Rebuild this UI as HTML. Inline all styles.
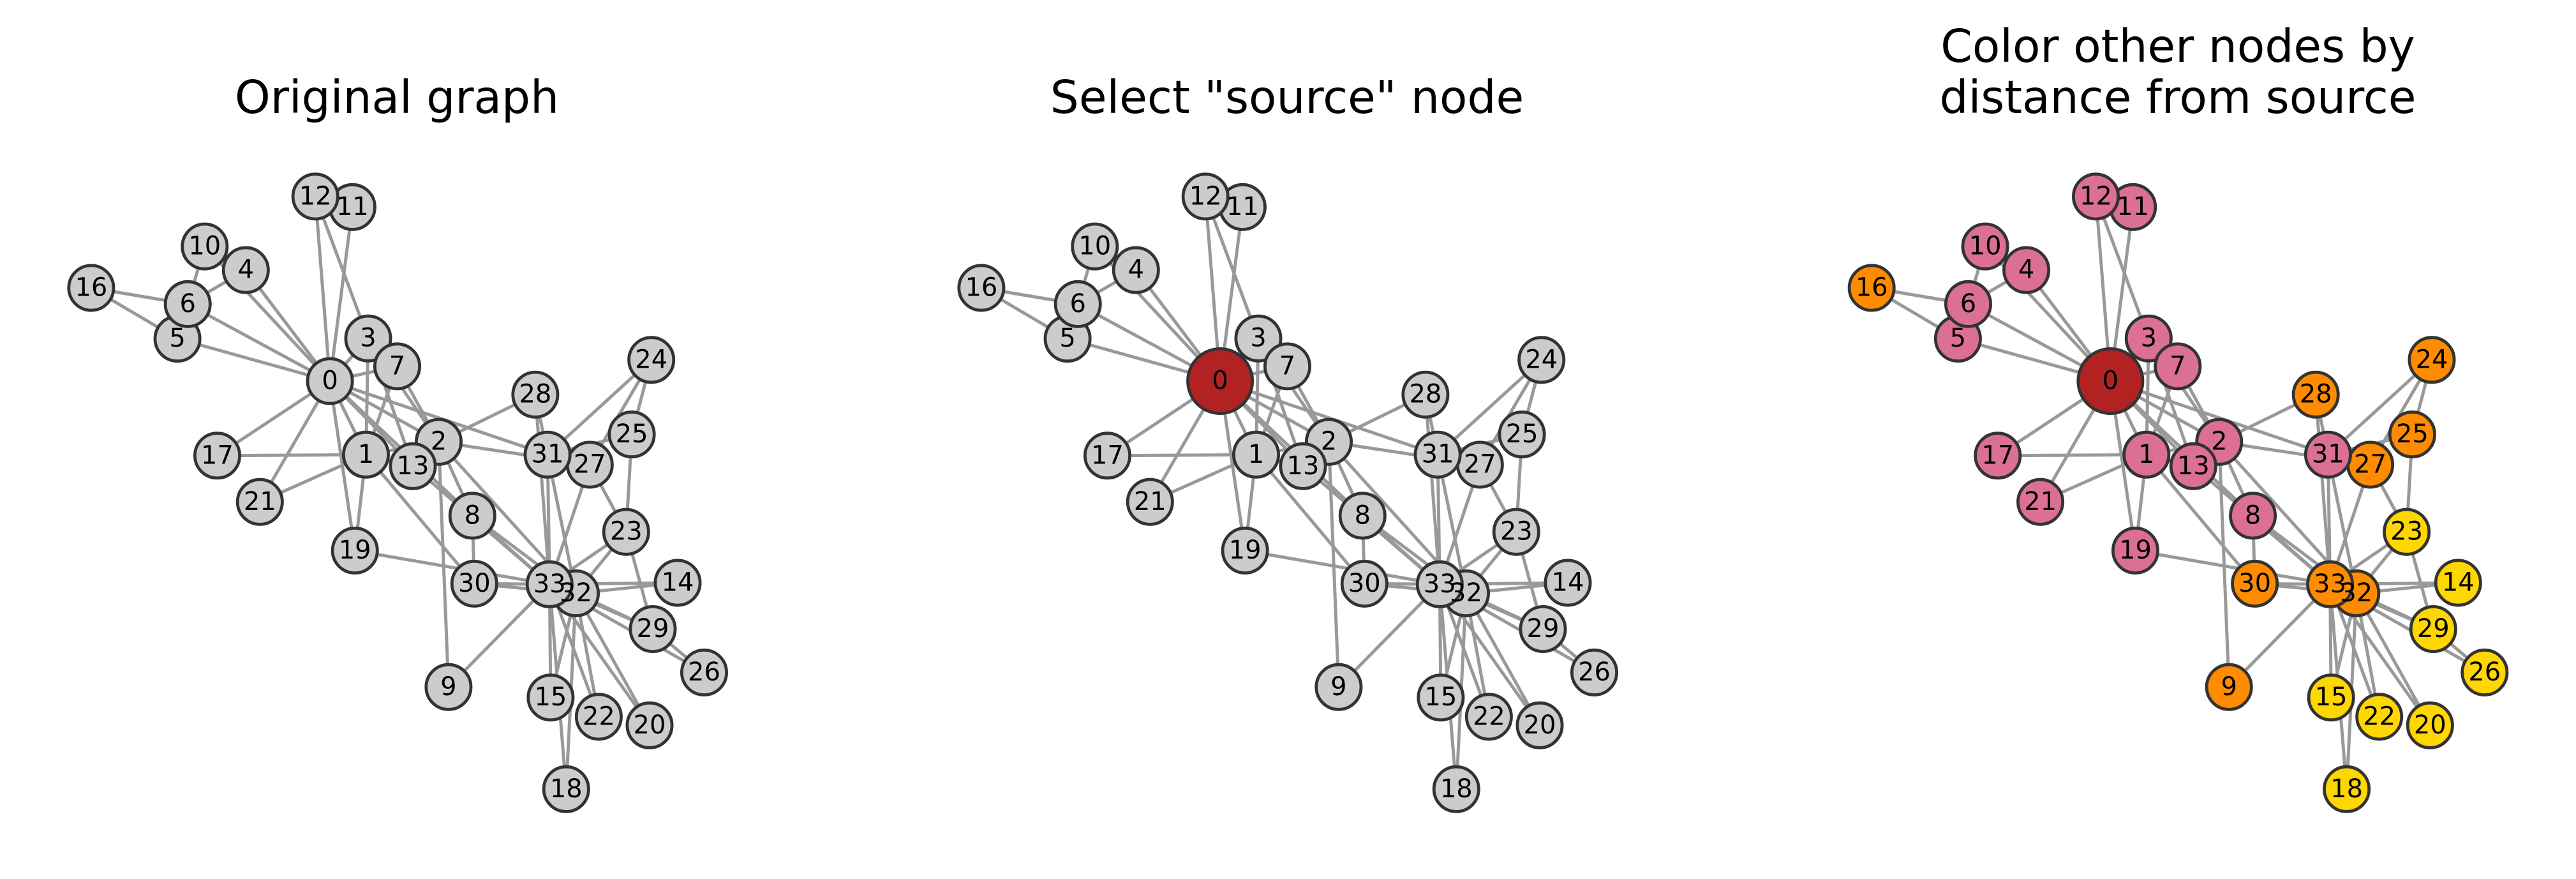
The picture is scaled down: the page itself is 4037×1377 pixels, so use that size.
<!DOCTYPE html>
<html><head><meta charset="utf-8"><style>
html,body{margin:0;padding:0;background:#fff;}
svg{display:block;}
.e{stroke:#999;stroke-width:5;fill:none;stroke-linecap:butt;}
circle{stroke:#333;stroke-width:4.8;}
.g{fill:#cccccc}.p{fill:#db7093}.o{fill:#ff8c00}.y{fill:#ffd700}.r{fill:#b22222}
text.l{font-family:"DejaVu Sans","Liberation Sans",sans-serif;font-size:40px;text-anchor:middle;fill:#000;}
text.t{font-family:"DejaVu Sans","Liberation Sans",sans-serif;font-size:71px;text-anchor:middle;fill:#000;}
</style></head><body>
<svg width="4037" height="1377" viewBox="0 0 4037 1377" xmlns="http://www.w3.org/2000/svg">
<rect width="4037" height="1377" fill="#fff"/>
<defs>
<g id="edges">
<path class="e" d="M517.1 597L573.5 712.3M517.1 597L687.5 692.2M517.1 597L577 530.2M517.1 597L385.3 423.1M517.1 597L278.1 530.6M517.1 597L294.2 476.4M517.1 597L622.5 573.9M517.1 597L740.3 807.9M517.1 597L320.8 386.1M517.1 597L552.4 324.4M517.1 597L494.2 307.9M517.1 597L647 730.3M517.1 597L340.5 713.8M517.1 597L556.2 862.5M517.1 597L407.3 786.3M517.1 597L858.1 712.2
M573.5 712.3L687.5 692.2M573.5 712.3L577 530.2M573.5 712.3L622.5 573.9M573.5 712.3L647 730.3M573.5 712.3L340.5 713.8M573.5 712.3L556.2 862.5M573.5 712.3L407.3 786.3M573.5 712.3L743.3 914.4
M687.5 692.2L577 530.2M687.5 692.2L622.5 573.9M687.5 692.2L740.3 807.9M687.5 692.2L702.9 1076.3M687.5 692.2L647 730.3M687.5 692.2L924.3 728M687.5 692.2L838.9 618.2M687.5 692.2L902.5 929.5
M577 530.2L622.5 573.9M577 530.2L494.2 307.9M577 530.2L647 730.3
M385.3 423.1L294.2 476.4M385.3 423.1L320.8 386.1
M278.1 530.6L294.2 476.4M278.1 530.6L320.8 386.1M278.1 530.6L142.9 451
M294.2 476.4L142.9 451
M740.3 807.9L743.3 914.4M740.3 807.9L902.5 929.5M740.3 807.9L861.3 915.3
M702.9 1076.3L861.3 915.3
M647 730.3L861.3 915.3
M1062 913L902.5 929.5M1062 913L861.3 915.3
M862.9 1092.7L902.5 929.5M862.9 1092.7L861.3 915.3
M887.3 1236.3L902.5 929.5M887.3 1236.3L861.3 915.3
M556.2 862.5L861.3 915.3
M1018 1136.3L902.5 929.5M1018 1136.3L861.3 915.3
M938.4 1122.9L902.5 929.5M938.4 1122.9L861.3 915.3
M981.3 833.2L990.1 680.6M981.3 833.2L924.3 728M981.3 833.2L1023 985.5M981.3 833.2L902.5 929.5M981.3 833.2L861.3 915.3
M1020.7 563.8L990.1 680.6M1020.7 563.8L924.3 728M1020.7 563.8L858.1 712.2
M990.1 680.6L858.1 712.2
M1103.5 1053.5L1023 985.5M1103.5 1053.5L861.3 915.3
M924.3 728L861.3 915.3
M838.9 618.2L858.1 712.2M838.9 618.2L861.3 915.3
M1023 985.5L902.5 929.5M1023 985.5L861.3 915.3
M743.3 914.4L902.5 929.5M743.3 914.4L861.3 915.3
M858.1 712.2L902.5 929.5M858.1 712.2L861.3 915.3
M902.5 929.5L861.3 915.3"/>
</g>
</defs>

<!-- Titles -->
<text class="t" x="622" y="177">Original graph</text>
<text class="t" x="2017" y="177">Select "source" node</text>
<text class="t" x="3413" y="97">Color other nodes by</text>
<text class="t" x="3413" y="177">distance from source</text>

<!-- Panel 1 -->
<g>
<use href="#edges"/>
<circle class="g" cx="517.1" cy="597" r="35.1"/>
<circle class="g" cx="573.5" cy="712.3" r="35.1"/>
<circle class="g" cx="687.5" cy="692.2" r="35.1"/>
<circle class="g" cx="577" cy="530.2" r="35.1"/>
<circle class="g" cx="385.3" cy="423.1" r="35.1"/>
<circle class="g" cx="278.1" cy="530.6" r="35.1"/>
<circle class="g" cx="294.2" cy="476.4" r="35.1"/>
<circle class="g" cx="622.5" cy="573.9" r="35.1"/>
<circle class="g" cx="740.3" cy="807.9" r="35.1"/>
<circle class="g" cx="702.9" cy="1076.3" r="35.1"/>
<circle class="g" cx="320.8" cy="386.1" r="35.1"/>
<circle class="g" cx="552.4" cy="324.4" r="35.1"/>
<circle class="g" cx="494.2" cy="307.9" r="35.1"/>
<circle class="g" cx="647" cy="730.3" r="35.1"/>
<circle class="g" cx="1062" cy="913" r="35.1"/>
<circle class="g" cx="862.9" cy="1092.7" r="35.1"/>
<circle class="g" cx="142.9" cy="451" r="35.1"/>
<circle class="g" cx="340.5" cy="713.8" r="35.1"/>
<circle class="g" cx="887.3" cy="1236.3" r="35.1"/>
<circle class="g" cx="556.2" cy="862.5" r="35.1"/>
<circle class="g" cx="1018" cy="1136.3" r="35.1"/>
<circle class="g" cx="407.3" cy="786.3" r="35.1"/>
<circle class="g" cx="938.4" cy="1122.9" r="35.1"/>
<circle class="g" cx="981.3" cy="833.2" r="35.1"/>
<circle class="g" cx="1020.7" cy="563.8" r="35.1"/>
<circle class="g" cx="990.1" cy="680.6" r="35.1"/>
<circle class="g" cx="1103.5" cy="1053.5" r="35.1"/>
<circle class="g" cx="924.3" cy="728" r="35.1"/>
<circle class="g" cx="838.9" cy="618.2" r="35.1"/>
<circle class="g" cx="1023" cy="985.5" r="35.1"/>
<circle class="g" cx="743.3" cy="914.4" r="35.1"/>
<circle class="g" cx="858.1" cy="712.2" r="35.1"/>
<circle class="g" cx="902.5" cy="929.5" r="35.1"/>
<circle class="g" cx="861.3" cy="915.3" r="35.1"/>
<text class="l" x="517.1" y="609.5">0</text>
<text class="l" x="573.5" y="724.8">1</text>
<text class="l" x="687.5" y="704.7">2</text>
<text class="l" x="577" y="542.7">3</text>
<text class="l" x="385.3" y="435.6">4</text>
<text class="l" x="278.1" y="543.1">5</text>
<text class="l" x="294.2" y="488.9">6</text>
<text class="l" x="622.5" y="586.4">7</text>
<text class="l" x="740.3" y="820.4">8</text>
<text class="l" x="702.9" y="1088.8">9</text>
<text class="l" x="320.8" y="398.6">10</text>
<text class="l" x="552.4" y="336.9">11</text>
<text class="l" x="494.2" y="320.4">12</text>
<text class="l" x="647" y="742.8">13</text>
<text class="l" x="1062" y="925.5">14</text>
<text class="l" x="862.9" y="1105.2">15</text>
<text class="l" x="142.9" y="463.5">16</text>
<text class="l" x="340.5" y="726.3">17</text>
<text class="l" x="887.3" y="1248.8">18</text>
<text class="l" x="556.2" y="875">19</text>
<text class="l" x="1018" y="1148.8">20</text>
<text class="l" x="407.3" y="798.8">21</text>
<text class="l" x="938.4" y="1135.4">22</text>
<text class="l" x="981.3" y="845.7">23</text>
<text class="l" x="1020.7" y="576.3">24</text>
<text class="l" x="990.1" y="693.1">25</text>
<text class="l" x="1103.5" y="1066">26</text>
<text class="l" x="924.3" y="740.5">27</text>
<text class="l" x="838.9" y="630.7">28</text>
<text class="l" x="1023" y="998">29</text>
<text class="l" x="743.3" y="926.9">30</text>
<text class="l" x="858.1" y="724.7">31</text>
<text class="l" x="902.5" y="942">32</text>
<text class="l" x="861.3" y="927.8">33</text>
</g>

<!-- Panel 2 -->
<g transform="translate(1395,0)">
<use href="#edges"/>
<circle class="r" cx="517.1" cy="597" r="50.6"/>
<circle class="g" cx="573.5" cy="712.3" r="35.1"/>
<circle class="g" cx="687.5" cy="692.2" r="35.1"/>
<circle class="g" cx="577" cy="530.2" r="35.1"/>
<circle class="g" cx="385.3" cy="423.1" r="35.1"/>
<circle class="g" cx="278.1" cy="530.6" r="35.1"/>
<circle class="g" cx="294.2" cy="476.4" r="35.1"/>
<circle class="g" cx="622.5" cy="573.9" r="35.1"/>
<circle class="g" cx="740.3" cy="807.9" r="35.1"/>
<circle class="g" cx="702.9" cy="1076.3" r="35.1"/>
<circle class="g" cx="320.8" cy="386.1" r="35.1"/>
<circle class="g" cx="552.4" cy="324.4" r="35.1"/>
<circle class="g" cx="494.2" cy="307.9" r="35.1"/>
<circle class="g" cx="647" cy="730.3" r="35.1"/>
<circle class="g" cx="1062" cy="913" r="35.1"/>
<circle class="g" cx="862.9" cy="1092.7" r="35.1"/>
<circle class="g" cx="142.9" cy="451" r="35.1"/>
<circle class="g" cx="340.5" cy="713.8" r="35.1"/>
<circle class="g" cx="887.3" cy="1236.3" r="35.1"/>
<circle class="g" cx="556.2" cy="862.5" r="35.1"/>
<circle class="g" cx="1018" cy="1136.3" r="35.1"/>
<circle class="g" cx="407.3" cy="786.3" r="35.1"/>
<circle class="g" cx="938.4" cy="1122.9" r="35.1"/>
<circle class="g" cx="981.3" cy="833.2" r="35.1"/>
<circle class="g" cx="1020.7" cy="563.8" r="35.1"/>
<circle class="g" cx="990.1" cy="680.6" r="35.1"/>
<circle class="g" cx="1103.5" cy="1053.5" r="35.1"/>
<circle class="g" cx="924.3" cy="728" r="35.1"/>
<circle class="g" cx="838.9" cy="618.2" r="35.1"/>
<circle class="g" cx="1023" cy="985.5" r="35.1"/>
<circle class="g" cx="743.3" cy="914.4" r="35.1"/>
<circle class="g" cx="858.1" cy="712.2" r="35.1"/>
<circle class="g" cx="902.5" cy="929.5" r="35.1"/>
<circle class="g" cx="861.3" cy="915.3" r="35.1"/>
<text class="l" x="517.1" y="609.5">0</text>
<text class="l" x="573.5" y="724.8">1</text>
<text class="l" x="687.5" y="704.7">2</text>
<text class="l" x="577" y="542.7">3</text>
<text class="l" x="385.3" y="435.6">4</text>
<text class="l" x="278.1" y="543.1">5</text>
<text class="l" x="294.2" y="488.9">6</text>
<text class="l" x="622.5" y="586.4">7</text>
<text class="l" x="740.3" y="820.4">8</text>
<text class="l" x="702.9" y="1088.8">9</text>
<text class="l" x="320.8" y="398.6">10</text>
<text class="l" x="552.4" y="336.9">11</text>
<text class="l" x="494.2" y="320.4">12</text>
<text class="l" x="647" y="742.8">13</text>
<text class="l" x="1062" y="925.5">14</text>
<text class="l" x="862.9" y="1105.2">15</text>
<text class="l" x="142.9" y="463.5">16</text>
<text class="l" x="340.5" y="726.3">17</text>
<text class="l" x="887.3" y="1248.8">18</text>
<text class="l" x="556.2" y="875">19</text>
<text class="l" x="1018" y="1148.8">20</text>
<text class="l" x="407.3" y="798.8">21</text>
<text class="l" x="938.4" y="1135.4">22</text>
<text class="l" x="981.3" y="845.7">23</text>
<text class="l" x="1020.7" y="576.3">24</text>
<text class="l" x="990.1" y="693.1">25</text>
<text class="l" x="1103.5" y="1066">26</text>
<text class="l" x="924.3" y="740.5">27</text>
<text class="l" x="838.9" y="630.7">28</text>
<text class="l" x="1023" y="998">29</text>
<text class="l" x="743.3" y="926.9">30</text>
<text class="l" x="858.1" y="724.7">31</text>
<text class="l" x="902.5" y="942">32</text>
<text class="l" x="861.3" y="927.8">33</text>
</g>

<!-- Panel 3 -->
<g transform="translate(2790.3,0)">
<use href="#edges"/>
<circle class="r" cx="517.1" cy="597" r="50.6"/>
<circle class="p" cx="573.5" cy="712.3" r="35.1"/>
<circle class="p" cx="687.5" cy="692.2" r="35.1"/>
<circle class="p" cx="577" cy="530.2" r="35.1"/>
<circle class="p" cx="385.3" cy="423.1" r="35.1"/>
<circle class="p" cx="278.1" cy="530.6" r="35.1"/>
<circle class="p" cx="294.2" cy="476.4" r="35.1"/>
<circle class="p" cx="622.5" cy="573.9" r="35.1"/>
<circle class="p" cx="740.3" cy="807.9" r="35.1"/>
<circle class="o" cx="702.9" cy="1076.3" r="35.1"/>
<circle class="p" cx="320.8" cy="386.1" r="35.1"/>
<circle class="p" cx="552.4" cy="324.4" r="35.1"/>
<circle class="p" cx="494.2" cy="307.9" r="35.1"/>
<circle class="p" cx="647" cy="730.3" r="35.1"/>
<circle class="y" cx="1062" cy="913" r="35.1"/>
<circle class="y" cx="862.9" cy="1092.7" r="35.1"/>
<circle class="o" cx="142.9" cy="451" r="35.1"/>
<circle class="p" cx="340.5" cy="713.8" r="35.1"/>
<circle class="y" cx="887.3" cy="1236.3" r="35.1"/>
<circle class="p" cx="556.2" cy="862.5" r="35.1"/>
<circle class="y" cx="1018" cy="1136.3" r="35.1"/>
<circle class="p" cx="407.3" cy="786.3" r="35.1"/>
<circle class="y" cx="938.4" cy="1122.9" r="35.1"/>
<circle class="y" cx="981.3" cy="833.2" r="35.1"/>
<circle class="o" cx="1020.7" cy="563.8" r="35.1"/>
<circle class="o" cx="990.1" cy="680.6" r="35.1"/>
<circle class="y" cx="1103.5" cy="1053.5" r="35.1"/>
<circle class="o" cx="924.3" cy="728" r="35.1"/>
<circle class="o" cx="838.9" cy="618.2" r="35.1"/>
<circle class="y" cx="1023" cy="985.5" r="35.1"/>
<circle class="o" cx="743.3" cy="914.4" r="35.1"/>
<circle class="p" cx="858.1" cy="712.2" r="35.1"/>
<circle class="o" cx="902.5" cy="929.5" r="35.1"/>
<circle class="o" cx="861.3" cy="915.3" r="35.1"/>
<text class="l" x="517.1" y="609.5">0</text>
<text class="l" x="573.5" y="724.8">1</text>
<text class="l" x="687.5" y="704.7">2</text>
<text class="l" x="577" y="542.7">3</text>
<text class="l" x="385.3" y="435.6">4</text>
<text class="l" x="278.1" y="543.1">5</text>
<text class="l" x="294.2" y="488.9">6</text>
<text class="l" x="622.5" y="586.4">7</text>
<text class="l" x="740.3" y="820.4">8</text>
<text class="l" x="702.9" y="1088.8">9</text>
<text class="l" x="320.8" y="398.6">10</text>
<text class="l" x="552.4" y="336.9">11</text>
<text class="l" x="494.2" y="320.4">12</text>
<text class="l" x="647" y="742.8">13</text>
<text class="l" x="1062" y="925.5">14</text>
<text class="l" x="862.9" y="1105.2">15</text>
<text class="l" x="142.9" y="463.5">16</text>
<text class="l" x="340.5" y="726.3">17</text>
<text class="l" x="887.3" y="1248.8">18</text>
<text class="l" x="556.2" y="875">19</text>
<text class="l" x="1018" y="1148.8">20</text>
<text class="l" x="407.3" y="798.8">21</text>
<text class="l" x="938.4" y="1135.4">22</text>
<text class="l" x="981.3" y="845.7">23</text>
<text class="l" x="1020.7" y="576.3">24</text>
<text class="l" x="990.1" y="693.1">25</text>
<text class="l" x="1103.5" y="1066">26</text>
<text class="l" x="924.3" y="740.5">27</text>
<text class="l" x="838.9" y="630.7">28</text>
<text class="l" x="1023" y="998">29</text>
<text class="l" x="743.3" y="926.9">30</text>
<text class="l" x="858.1" y="724.7">31</text>
<text class="l" x="902.5" y="942">32</text>
<text class="l" x="861.3" y="927.8">33</text>
</g>
</svg>
</body></html>
